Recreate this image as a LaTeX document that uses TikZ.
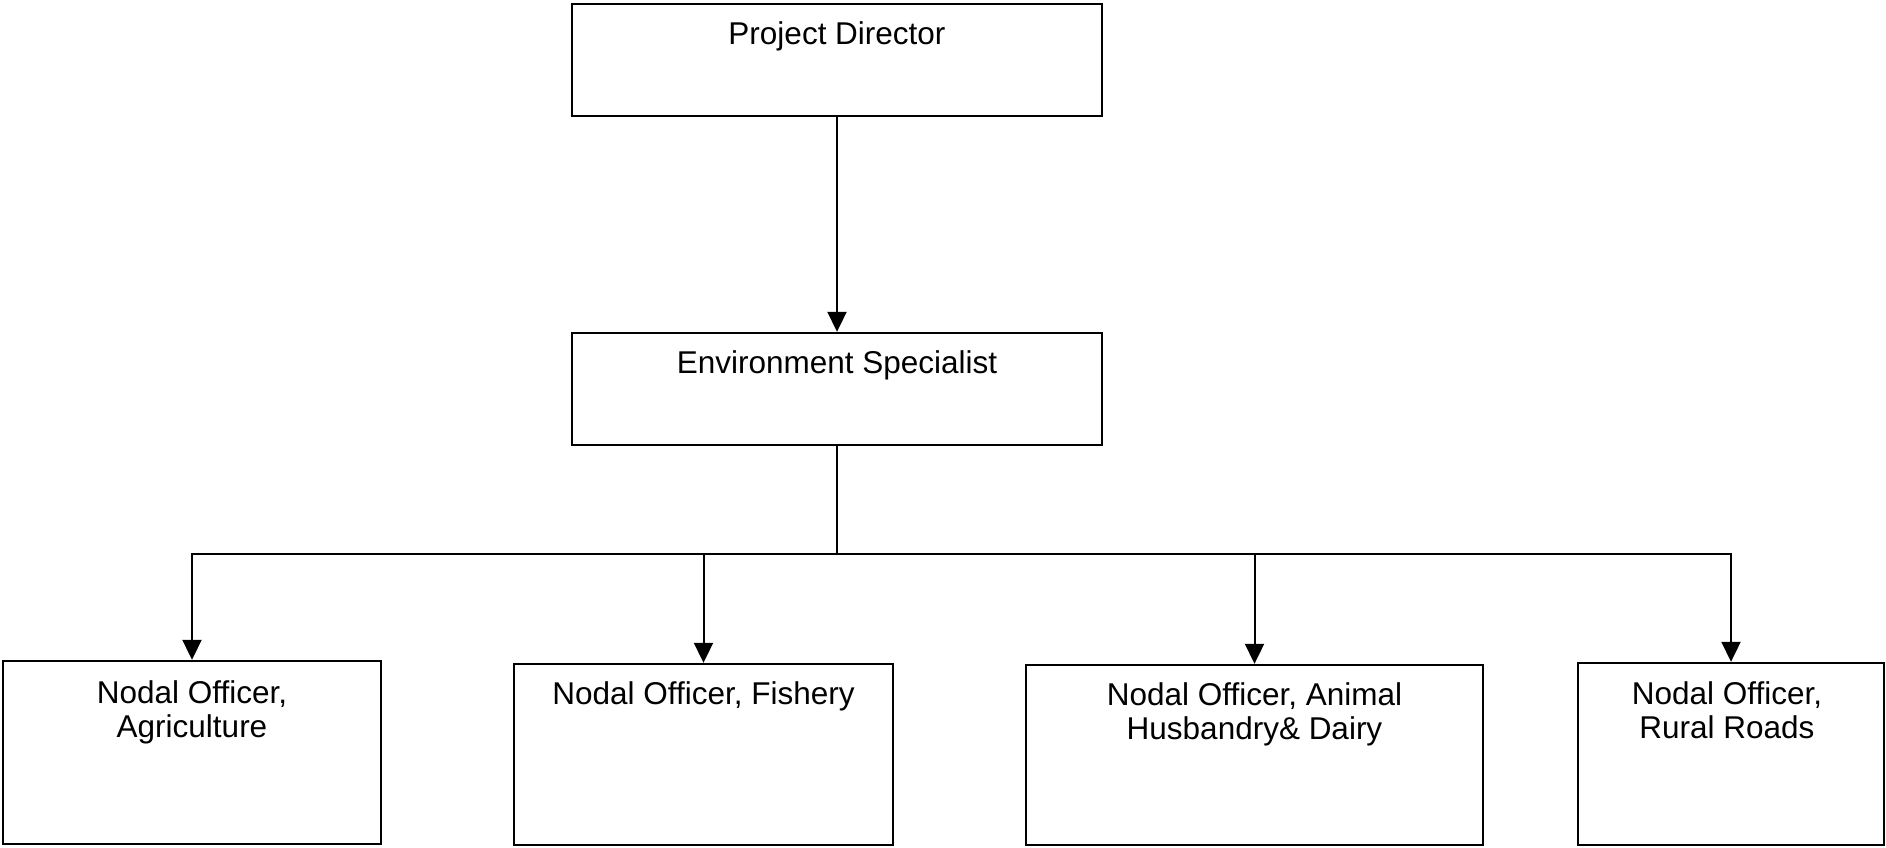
\documentclass[tikz,border=0pt]{standalone}
\usepackage{fontspec}
\setmainfont{Liberation Sans}
\usetikzlibrary{arrows.meta}
\begin{document}
\begin{tikzpicture}[x=1pt,y=-1pt,
  box/.style={draw=black, line width=2.4pt, rectangle, inner sep=0pt, fill=none},
  lbl/.style={anchor=north, inner sep=0pt, align=center, font=\fontsize{31.5}{34}\selectfont},
  conn/.style={draw=black, line width=2pt},
  arr/.style={conn, -{Triangle[length=20pt,width=19pt]}}]
\useasboundingbox (0,0) rectangle (1886,847);
\fill[white] (0,0) rectangle (1886,847);
% boxes
\node[box, minimum width=530pt, minimum height=112pt] (pd) at (837,60) {};
\node[box, minimum width=530pt, minimum height=112pt] (es) at (837,389) {};
\node[box, minimum width=378pt, minimum height=183pt] (b1) at (192,752.5) {};
\node[box, minimum width=379pt, minimum height=181pt] (b2) at (703.5,754.5) {};
\node[box, minimum width=457pt, minimum height=180pt] (b3) at (1254.5,755) {};
\node[box, minimum width=306pt, minimum height=182pt] (b4) at (1731,754) {};
% texts
\node[lbl, yshift=-19pt] (tpd) at (pd.north) {Project Director};
\node[lbl, yshift=-19pt] (tes) at (es.north) {Environment Specialist};
\node[lbl, yshift=-21pt] (tb1) at (b1.north) {Nodal Officer,\\Agriculture};
\node[lbl, yshift=-19pt] (tb2) at (b2.north) {Nodal Officer, Fishery};
\node[lbl, yshift=-19pt] (tb3) at (b3.north) {Nodal Officer, Animal\\Husbandry\& Dairy};
\node[lbl, yshift=-20pt, xshift=-4pt] (tb4) at (b4.north) {Nodal Officer,\\Rural Roads};
% connectors
\coordinate (bus) at (837,554);
\draw[arr] (pd.south) -- (es.north);
\draw[conn] (es.south) -- (bus);
\draw[arr] (bus) -| (b1.north);
\draw[arr] (bus) -| (b2.north);
\draw[arr] (bus) -| (b3.north);
\draw[arr] (bus) -| (b4.north);
\end{tikzpicture}
\end{document}
